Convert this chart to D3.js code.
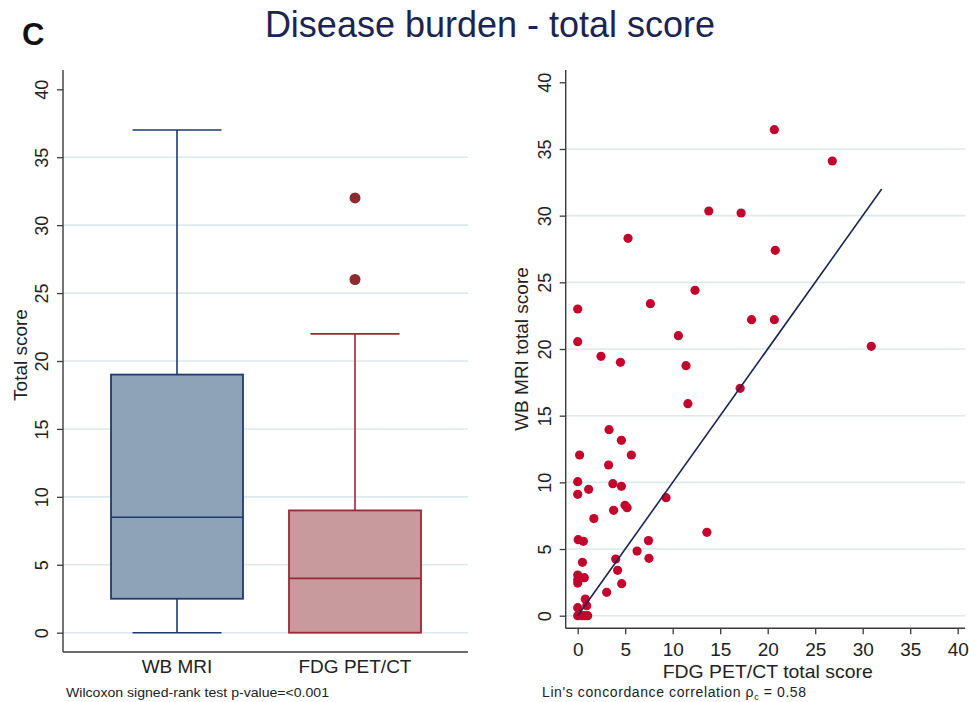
<!DOCTYPE html>
<html>
<head>
<meta charset="utf-8">
<script src="https://cdn.jsdelivr.net/npm/d3@7"></script>
<style>
  html, body { margin: 0; padding: 0; background: #fff; }
  svg { display: block; font-family: "Liberation Sans", Arial, Helvetica, sans-serif; }
</style>
</head>
<body>
<svg id="chart" width="969" height="702"></svg>
<script>
// ---------- data ----------
const categories = ["WB MRI", "FDG PET/CT"];
const boxMin    = [0, 0];
const boxQ1     = [2.5, 0];
const boxMedian = [8.5, 4];
const boxQ3     = [19, 9];
const boxMax    = [37, 22];
const outlierCat = ["FDG PET/CT", "FDG PET/CT"];
const outlierVal = [32, 26];

const yTicks = [0, 5, 10, 15, 20, 25, 30, 35, 40];
const xTicks = [0, 5, 10, 15, 20, 25, 30, 35, 40];
const gridTicks = [0, 5, 10, 15, 20, 25, 30, 35];

// scatter: FDG PET/CT total score (x) vs WB MRI total score (y)
const fdgScore = [20.7, 26.8, 13.8, 17.2, 5.3, 20.8, 12.35, 7.65, 0, 18.3, 20.7, 10.6, 0, 30.9, 2.45, 4.5, 11.4,
  17.1, 11.6, 3.3, 4.6, 0.2, 5.65, 3.25, 0, 3.7, 4.6, 1.15, 0, 9.3, 4.98, 5.2, 3.78, 1.7, 13.6,
  0.05, 0.6, 7.45, 6.25, 4.0, 7.5, 0.5, 4.2, 0, 0.7, 0, 0, 4.63, 3.05, 0.8, 0.95, 0, 0, 0.45, 0.75, 1.05];
const mriScore = [36.45, 34.1, 30.35, 30.2, 28.3, 27.4, 24.4, 23.4, 23.0, 22.2, 22.2, 21.0, 20.55, 20.2, 19.45, 19.0, 18.75,
  17.05, 15.9, 13.95, 13.15, 12.05, 12.05, 11.3, 10.05, 9.9, 9.7, 9.48, 9.1, 8.85, 8.28, 8.1, 7.9, 7.28, 6.25,
  5.7, 5.58, 5.63, 4.85, 4.25, 4.3, 4.0, 3.4, 3.05, 2.85, 2.7, 2.45, 2.4, 1.75, 1.25, 0.75, 0.6, 0, 0, 0, 0];
const concordLine = [0, 32];

// ---------- styles ----------
const navy = "#1b2553";
const boxStroke = ["#1e3a6e", "#982a33"];
const boxFill = ["#8ea3b8", "#c8999d"];
const outlierColor = "#8d2a2f";
const pointColor = "#c3052d";
const gridColor = "#dde9ed";
const axisColor = "#3a3a3a";

const svg = d3.select("#chart");
svg.append("rect").attr("width", 969).attr("height", 702).attr("fill", "#fff");

// Title and panel letter
svg.append("text").attr("x", 490).attr("y", 37).attr("text-anchor", "middle")
  .attr("font-size", 36).attr("fill", navy).text("Disease burden - total score");
svg.append("text").attr("x", 22).attr("y", 45).attr("font-size", 31).attr("font-weight", "bold")
  .attr("fill", "#111").text("C");

// ---------- left panel: box plot ----------
const L = { left: 63, right: 468, top: 70, bottom: 652 };
const yL = d3.scaleLinear().domain([0, 40]).range([632.7, 89.3]);
const xL = d3.scalePoint().domain(categories).range([177, 355]);

const gL = svg.append("g");
gL.selectAll("line.grid").data(gridTicks).join("line")
  .attr("x1", L.left).attr("x2", L.right)
  .attr("y1", d => yL(d)).attr("y2", d => yL(d))
  .attr("stroke", gridColor).attr("stroke-width", 1.6);

const axL = gL.append("g").attr("transform", `translate(${L.left},0)`)
  .call(d3.axisLeft(yL).tickValues(yTicks).tickSize(6).tickSizeOuter(0));
axL.select(".domain").remove();
axL.selectAll(".tick line").attr("stroke", axisColor).attr("stroke-width", 1.3);
axL.selectAll(".tick text").attr("transform", "rotate(-90)").attr("x", 0).attr("y", -15).attr("dy", 0)
  .attr("text-anchor", "middle").attr("font-size", 18).attr("fill", "#222").style("font-family", "inherit");
gL.append("line").attr("x1", L.left).attr("x2", L.left).attr("y1", L.top).attr("y2", L.bottom)
  .attr("stroke", axisColor).attr("stroke-width", 1.4);
gL.append("line").attr("x1", L.left).attr("x2", L.right).attr("y1", L.bottom).attr("y2", L.bottom)
  .attr("stroke", axisColor).attr("stroke-width", 1.4);

gL.append("text").attr("transform", `translate(27,355) rotate(-90)`).attr("text-anchor", "middle")
  .attr("font-size", 19).attr("fill", "#222").text("Total score");

const boxW = 132, capW = 89;
categories.forEach((c, i) => {
  const cx = xL(c);
  const g = gL.append("g");
  g.append("line").attr("x1", cx).attr("x2", cx).attr("y1", yL(boxQ3[i])).attr("y2", yL(boxMax[i]))
    .attr("stroke", boxStroke[i]).attr("stroke-width", 1.6);
  g.append("line").attr("x1", cx).attr("x2", cx).attr("y1", yL(boxQ1[i])).attr("y2", yL(boxMin[i]))
    .attr("stroke", boxStroke[i]).attr("stroke-width", 1.6);
  g.append("line").attr("x1", cx - capW / 2).attr("x2", cx + capW / 2).attr("y1", yL(boxMax[i])).attr("y2", yL(boxMax[i]))
    .attr("stroke", boxStroke[i]).attr("stroke-width", 1.6);
  if (boxMin[i] < boxQ1[i]) {
    g.append("line").attr("x1", cx - capW / 2).attr("x2", cx + capW / 2).attr("y1", yL(boxMin[i])).attr("y2", yL(boxMin[i]))
      .attr("stroke", boxStroke[i]).attr("stroke-width", 1.6);
  }
  g.append("rect").attr("x", cx - boxW / 2).attr("width", boxW)
    .attr("y", yL(boxQ3[i])).attr("height", yL(boxQ1[i]) - yL(boxQ3[i]))
    .attr("fill", boxFill[i]).attr("stroke", boxStroke[i]).attr("stroke-width", 1.8);
  g.append("line").attr("x1", cx - boxW / 2).attr("x2", cx + boxW / 2).attr("y1", yL(boxMedian[i])).attr("y2", yL(boxMedian[i]))
    .attr("stroke", boxStroke[i]).attr("stroke-width", 1.6);
  gL.append("text").attr("x", cx).attr("y", 673).attr("text-anchor", "middle")
    .attr("font-size", 19).attr("fill", "#222").text(c);
});
gL.selectAll("circle.out").data(outlierVal).join("circle")
  .attr("cx", (d, i) => xL(outlierCat[i])).attr("cy", d => yL(d)).attr("r", 5.5)
  .attr("fill", outlierColor);

gL.append("text").attr("x", 66).attr("y", 697).attr("font-size", 13).attr("fill", "#222")
  .attr("textLength", 263).attr("lengthAdjust", "spacingAndGlyphs")
  .text("Wilcoxon signed-rank test p-value=<0.001");

// ---------- right panel: scatter ----------
const R = { left: 565.7, right: 965, top: 70, bottom: 628.3 };
const xR = d3.scaleLinear().domain([0, 40]).range([577.7, 957.7]);
const yR = d3.scaleLinear().domain([0, 40]).range([615.7, 82.3]);

const gR = svg.append("g");
gR.selectAll("line.grid").data(gridTicks).join("line")
  .attr("x1", R.left).attr("x2", R.right)
  .attr("y1", d => yR(d)).attr("y2", d => yR(d))
  .attr("stroke", gridColor).attr("stroke-width", 1.6);

const ayR = gR.append("g").attr("transform", `translate(${R.left},0)`)
  .call(d3.axisLeft(yR).tickValues(yTicks).tickSize(6).tickSizeOuter(0));
ayR.select(".domain").remove();
ayR.selectAll(".tick line").attr("stroke", axisColor).attr("stroke-width", 1.3);
ayR.selectAll(".tick text").attr("transform", "rotate(-90)").attr("x", 0).attr("y", -15).attr("dy", 0)
  .attr("text-anchor", "middle").attr("font-size", 18).attr("fill", "#222").style("font-family", "inherit");

const axR = gR.append("g").attr("transform", `translate(0,${R.bottom})`)
  .call(d3.axisBottom(xR).tickValues(xTicks).tickSize(6).tickSizeOuter(0));
axR.select(".domain").remove();
axR.selectAll(".tick line").attr("stroke", axisColor).attr("stroke-width", 1.3);
axR.selectAll(".tick text").attr("y", 27.5).attr("dy", 0)
  .attr("font-size", 19).attr("fill", "#222").style("font-family", "inherit");

gR.append("line").attr("x1", R.left).attr("x2", R.left).attr("y1", R.top).attr("y2", R.bottom)
  .attr("stroke", axisColor).attr("stroke-width", 1.4);
gR.append("line").attr("x1", R.left).attr("x2", R.right).attr("y1", R.bottom).attr("y2", R.bottom)
  .attr("stroke", axisColor).attr("stroke-width", 1.4);

gR.append("text").attr("transform", `translate(528,349) rotate(-90)`).attr("text-anchor", "middle")
  .attr("font-size", 19).attr("fill", "#222").text("WB MRI total score");
gR.append("text").attr("x", xR(20)).attr("y", 677.5).attr("text-anchor", "middle")
  .attr("font-size", 18.5).attr("fill", "#222")
  .attr("textLength", 210).attr("lengthAdjust", "spacingAndGlyphs")
  .text("FDG PET/CT total score");

gR.selectAll("circle.pt").data(fdgScore).join("circle")
  .attr("cx", d => xR(d)).attr("cy", (d, i) => yR(mriScore[i])).attr("r", 4.6)
  .attr("fill", pointColor);

gR.append("line")
  .attr("x1", xR(concordLine[0])).attr("y1", yR(concordLine[0]))
  .attr("x2", xR(concordLine[1])).attr("y2", yR(concordLine[1]))
  .attr("stroke", navy).attr("stroke-width", 1.6);

const lin = gR.append("text").attr("x", 542).attr("y", 697).attr("font-size", 14).attr("fill", "#222")
  .attr("letter-spacing", 0.6);
lin.append("tspan").text("Lin's concordance correlation \u03C1");
lin.append("tspan").attr("font-size", 9).attr("dy", 3).text("c");
lin.append("tspan").attr("dy", -3).text(" =  0.58");
</script>
</body>
</html>
